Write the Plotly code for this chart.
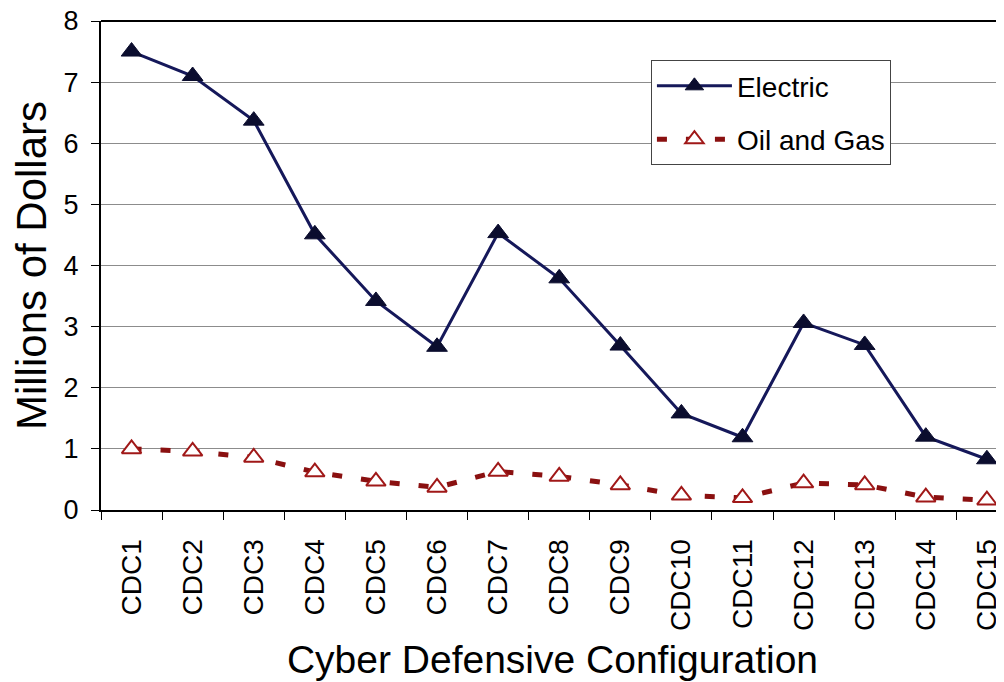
import plotly.graph_objects as go

# Data
categories = [f"CDC{i}" for i in range(1, 16)]
electric = [7.5, 7.1, 6.37, 4.51, 3.42, 2.67, 4.53, 3.79, 2.69, 1.58, 1.19, 3.06, 2.70, 1.2, 0.83]
oil_gas = [1.0, 0.96, 0.86, 0.62, 0.47, 0.37, 0.63, 0.55, 0.41, 0.24, 0.2, 0.44, 0.41, 0.21, 0.16]

FONT = "Liberation Sans, Arial, sans-serif"

fig = go.Figure()

fig.add_trace(go.Scatter(
    x=categories, y=electric, name="Electric", legendgroup="e",
    mode="lines+markers",
    line=dict(color="#15185a", width=3),
    marker=dict(symbol="triangle-up", size=18, color="#0b0d2e",
                line=dict(color="#0b0d2e", width=1)),
))
fig.add_trace(go.Scatter(
    x=categories, y=oil_gas, name="Oil and Gas", legendgroup="o",
    mode="lines+markers",
    line=dict(color="#8a1010", width=5, dash="10px,19px"),
    marker=dict(symbol="triangle-up", size=17, color="white",
                line=dict(color="#a01818", width=2)),
))

# page body has an 8px margin, so the figure is shifted by that amount
fig.update_layout(
    width=996, height=674,
    margin=dict(l=93, r=0, t=13, b=172),
    paper_bgcolor="white", plot_bgcolor="white",
    font=dict(family=FONT, color="black"),
    showlegend=True,
    legend=dict(
        x=0.609, y=0.92, xanchor="left", yanchor="top",
        bgcolor="white", bordercolor="#444", borderwidth=1,
        font=dict(size=28, family=FONT),
        itemwidth=75, traceorder="grouped", tracegroupgap=14,
    ),
)

# top border of the plot area
fig.add_shape(type="line", xref="paper", yref="y domain",
              x0=0, x1=1, y0=1, y1=1, line=dict(color="black", width=2))

fig.update_xaxes(
    type="category", range=[-0.5, 14.28], automargin=False,
    showline=True, linecolor="black", linewidth=2,
    ticks="outside", tickson="boundaries", ticklen=8, tickcolor="black",
    tickangle=-90, tickfont=dict(size=28), ticklabelstandoff=16,
    ticklabeloverflow="allow",
    showgrid=False,
    title=dict(text="Cyber Defensive Configuration", font=dict(size=39), standoff=16),
)
fig.update_yaxes(
    range=[0, 8], tickvals=[0, 1, 2, 3, 4, 5, 6, 7, 8], automargin=False,
    showline=True, linecolor="black", linewidth=2,
    ticks="outside", ticklen=8, tickcolor="black",
    tickfont=dict(size=27), ticklabelstandoff=7,
    ticklabeloverflow="allow",
    showgrid=True, gridcolor="#8c8c8c", gridwidth=1,
    zeroline=False,
    title=dict(text="Millions of Dollars", font=dict(size=42), standoff=11),
)

fig.write_html("out.html")
